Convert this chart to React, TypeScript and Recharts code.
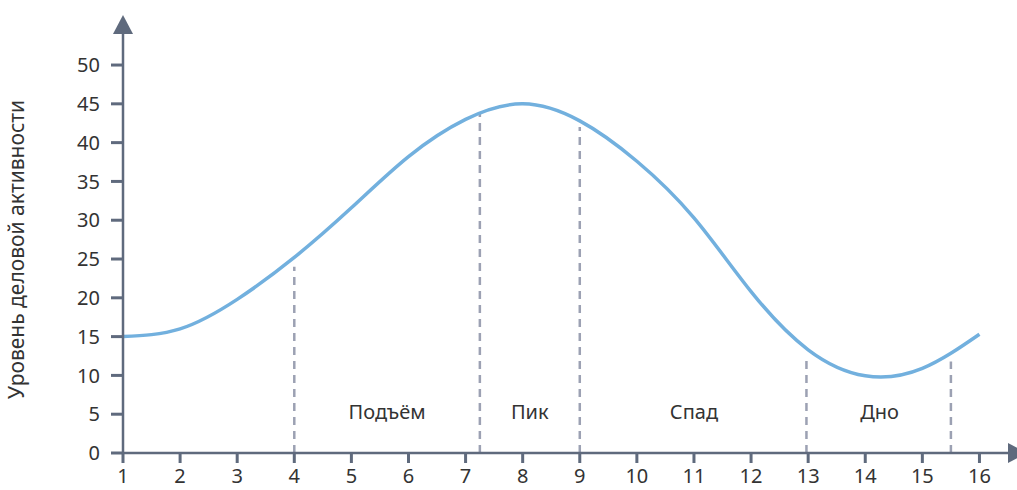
import {
  LineChart,
  Line,
  XAxis,
  YAxis,
  ReferenceLine,
  ReferenceDot,
} from "recharts";

const periods = [1, 2, 3, 4, 5, 6, 7, 8, 9, 10, 11, 12, 13, 14, 15, 16];
const activity = [15, 16, 19.8, 25.2, 31.6, 38.2, 43, 45, 42.8, 37.6, 30.3, 20.8, 13.3, 9.95, 10.9, 15.3];

const yTicks = [0, 5, 10, 15, 20, 25, 30, 35, 40, 45, 50];

// границы фаз цикла и высота пунктира
const boundaryX = [4, 7.25, 9, 12.97, 15.5];
const boundaryTop = [24, 43.8, 42, 12.6, 11.8];

const phaseNames = ["Подъём", "Пик", "Спад", "Дно"];
const phaseX = [5.625, 8.125, 11, 14.25];
const phaseY = 5.4;

const data = periods.map((p, i) => ({ x: p, y: activity[i] }));

const AXIS = "#5f6a7d";
const FONT = "'Noto Sans', sans-serif";

const upArrow = (p: any) => (
  <polygon
    points={`${p.cx - 10},${p.cy} ${p.cx + 10},${p.cy} ${p.cx},${p.cy - 19}`}
    fill={AXIS}
  />
);

const rightArrow = (p: any) => (
  <polygon
    points={`${p.cx},${p.cy - 10} ${p.cx},${p.cy + 10} ${p.cx + 19},${p.cy}`}
    fill={AXIS}
  />
);

export default function App() {
  return (
    <div style={{ position: "absolute", left: 0, top: 0, background: "#fff" }}>
      <LineChart
        width={1017}
        height={490}
        data={data}
        margin={{ top: 34, right: 9, bottom: 0, left: 0 }}
      >
        <XAxis
          dataKey="x"
          type="number"
          domain={[1, 16.5]}
          ticks={periods}
          interval={0}
          height={37}
          stroke={AXIS}
          strokeWidth={2.5}
          tickSize={10}
          tickMargin={6}
          tick={{ fill: "#333", fontSize: 20, fontFamily: FONT }}
          tickLine={{ stroke: AXIS, strokeWidth: 3 }}
        />
        <YAxis
          type="number"
          domain={[0, 54]}
          ticks={yTicks}
          interval={0}
          width={123}
          stroke={AXIS}
          strokeWidth={2.5}
          tickSize={12}
          tickMargin={11}
          tick={{ fill: "#333", fontSize: 20, fontFamily: FONT }}
          tickLine={{ stroke: AXIS, strokeWidth: 3 }}
          label={{
            value: "Уровень деловой активности",
            angle: -90,
            position: "insideLeft",
            offset: 17,
            dy: 6,
            style: { textAnchor: "middle", fill: "#333", fontSize: 21, fontFamily: FONT },
          }}
        />
        {boundaryX.map((bx, i) => (
          <ReferenceLine
            key={bx}
            segment={[
              { x: bx, y: 0 },
              { x: bx, y: boundaryTop[i] },
            ]}
            stroke="#9ca1b3"
            strokeWidth={2.5}
            strokeDasharray="8 6"
          />
        ))}
        {phaseNames.map((name, i) => (
          <ReferenceDot
            key={name}
            x={phaseX[i]}
            y={phaseY}
            r={0}
            shape={(p: any) => (
              <text
                x={p.cx}
                y={p.cy}
                textAnchor="middle"
                dominantBaseline="central"
                fill="#333"
                fontSize={20}
                fontFamily={FONT}
              >
                {name}
              </text>
            )}
          />
        ))}
        <Line
          type="natural"
          dataKey="y"
          stroke="#72b0de"
          strokeWidth={3.5}
          dot={false}
          activeDot={false}
          isAnimationActive={false}
        />
        <ReferenceDot x={1} y={54} r={0} shape={upArrow} />
        <ReferenceDot x={16.5} y={0} r={0} shape={rightArrow} />
      </LineChart>
    </div>
  );
}
